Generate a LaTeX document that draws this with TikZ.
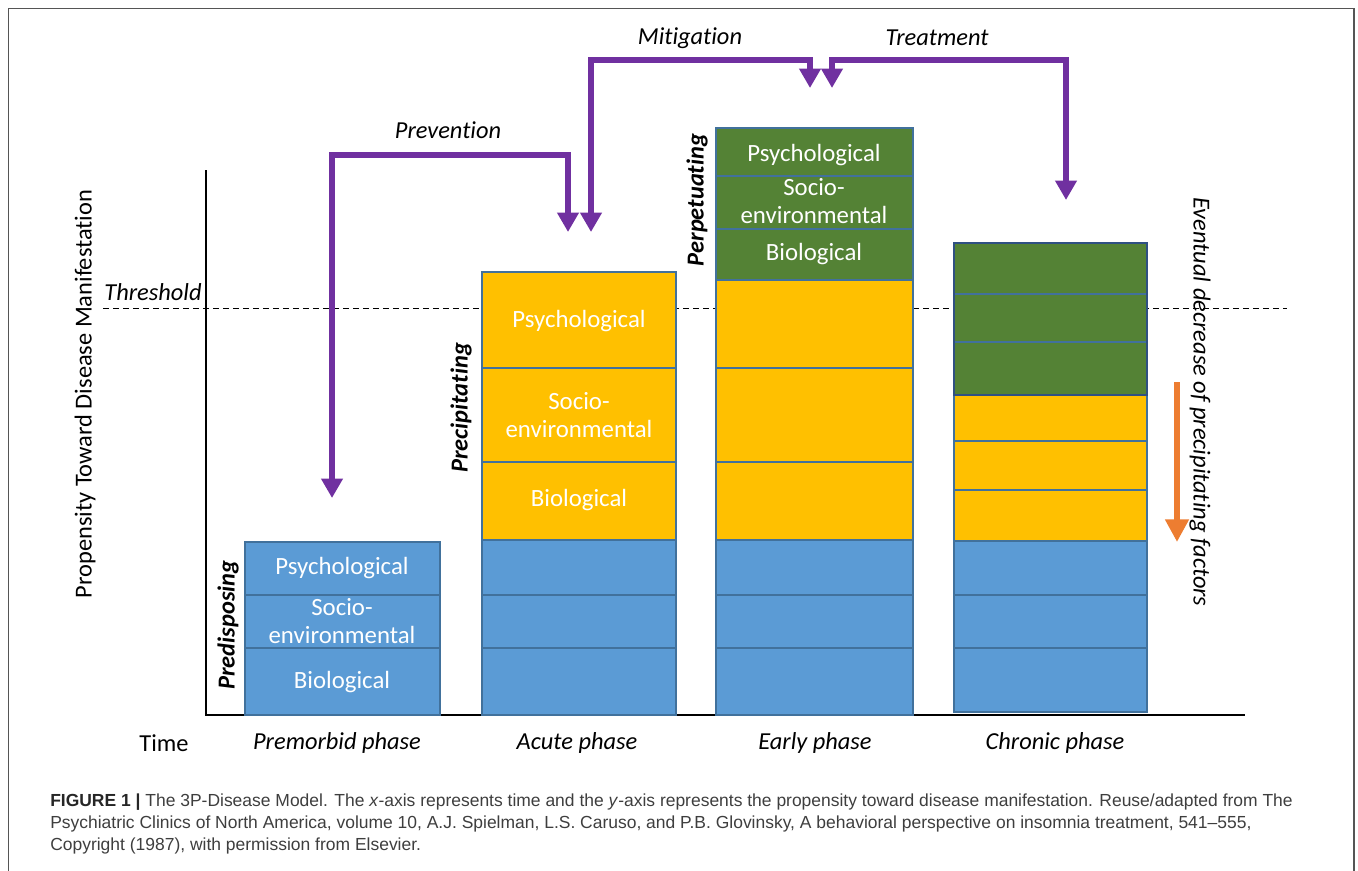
\documentclass[tikz,border=0pt]{standalone}
\usepackage{fontspec}
\setmainfont[Ligatures={NoCommon}]{Carlito}
\newfontfamily\capfont{Liberation Sans}
\usetikzlibrary{arrows.meta}
\definecolor{barblue}{RGB}{91,155,213}
\definecolor{baryellow}{RGB}{255,192,0}
\definecolor{bargreen}{RGB}{84,130,53}
\definecolor{segline}{RGB}{65,113,156}
\definecolor{segdark}{RGB}{47,80,130}
\definecolor{arrpurple}{RGB}{112,48,160}
\definecolor{arrorange}{RGB}{237,125,49}
\definecolor{capgray}{RGB}{62,62,62}
\definecolor{framegray}{RGB}{85,85,85}
\begin{document}
\begin{tikzpicture}[x=0.75pt,y=0.75pt,yscale=-1,xscale=1,
    seg/.style={draw=segline,line width=0.9pt},
    lbl/.style={text=white,font=\fontsize{18.6}{20.5}\selectfont,align=center,inner sep=0.75pt},
    sidelbl/.style={font=\fontsize{18.3}{20}\selectfont\bfseries\itshape,rotate=90,inner sep=0.75pt},
    plain/.style={font=\fontsize{18.3}{20}\selectfont,inner sep=0.75pt},
    slant/.style={font=\fontsize{18.3}{20}\selectfont\itshape,inner sep=0.75pt},
    captxt/.style={font=\capfont\fontsize{13.1}{15}\selectfont,text=capgray,anchor=base west,inner sep=0pt},
    purplearrow/.style={draw=arrpurple,line width=4.1pt,
        {Triangle[width=15.5pt,length=14.5pt]}-{Triangle[width=15.5pt,length=14.5pt]}},
    orangearrow/.style={draw=arrorange,line width=5.2pt,-{Triangle[width=17pt,length=17pt]}}]
%uncomment if require: \path (0,870); %diagram is 1358 x 870
\clip (0,0) rectangle (1358,870);
%Shape: Rectangle [id:frame]
\draw [draw=framegray,line width=1.4pt] (8.5,8.5) rectangle (1354,880) ;
%Straight Lines [id:threshold]
\draw [dash pattern=on 4.5pt off 3pt,line width=0.75pt] (103,308) -- (1287,308) ;
%Straight Lines [id:axes]
\draw [line width=0.9pt] (206,170) -- (206,715) -- (1245,715) ;
%Shape: Bars [id:premorbid]
\foreach \a/\b/\c in {542/595/barblue,595/648/barblue,648/715/barblue}
  \draw [seg,fill=\c] (245,\a) rectangle (440,\b) ;
%Shape: Bars [id:acute]
\foreach \a/\b/\c in {272/368/baryellow,368/462/baryellow,462/540/baryellow,540/595/barblue,595/648/barblue,648/715/barblue}
  \draw [seg,fill=\c] (482,\a) rectangle (676,\b) ;
%Shape: Bars [id:early]
\foreach \a/\b/\c in {128/176/bargreen,176/229/bargreen,229/280/bargreen,280/368/baryellow,368/462/baryellow,462/540/baryellow,540/595/barblue,595/648/barblue,648/715/barblue}
  \draw [seg,fill=\c] (716,\a) rectangle (913,\b) ;
%Shape: Bars [id:chronic]
\foreach \a/\b/\c in {243/294/bargreen,294/342/bargreen,342/395/bargreen,395/441/baryellow,441/490/baryellow,490/541/baryellow,541/595/barblue,595/648/barblue,648/712/barblue}
  \draw [seg,fill=\c] (954,\a) rectangle (1147,\b) ;
\draw [draw=segdark,line width=1.3pt] (954,243) rectangle (1147,395) ;
% Text Node
\node [lbl] (preA) at (342,568) {Psychological};
\node [lbl] (preB) at (342,621) {Socio-\\environmental};
\node [lbl] (preC) at (342,682) {Biological};
\node [lbl] (acuA) at (579,321) {Psychological};
\node [lbl] (acuB) at (579,415) {Socio-\\environmental};
\node [lbl] (acuC) at (579,500) {Biological};
\node [lbl] (earA) at (814,155) {Psychological};
\node [lbl] (earB) at (814,201) {Socio-\\environmental};
\node [lbl] (earC) at (814,254) {Biological};
% Text Node
\node [sidelbl] (predisp) at (228,625) {Predisposing};
\node [sidelbl] (precip) at (461,408) {Precipitating};
\node [sidelbl] (perpet) at (697,200) {Perpetuating};
% Text Node
\node [plain,rotate=90] (yaxis) at (85,394) {Propensity Toward Disease Manifestation};
\node [slant] (thresh) at (153,292) {Threshold};
\node [plain] (time) at (164,743) {Time};
\node [slant] (premorb) at (337,743) {Premorbid phase};
\node [slant] (acute) at (577,743) {Acute phase};
\node [slant] (early) at (815,743) {Early phase};
\node [slant] (chronic) at (1055,743) {Chronic phase};
\node [slant,rotate=-90] (eventual) at (1200,402) {Eventual decrease of precipitating factors};
% Text Node
\node [slant] (prevent) at (448,130) {Prevention};
\node [slant] (mitig) at (690,38) {Mitigation};
\node [slant] (treat) at (937,38) {Treatment};
%Connectors [id:purple]
\coordinate (prevTip) at (568,232);
\coordinate (prevEnd) at (332,498);
\coordinate (mitTip) at (591,232);
\coordinate (mitEnd) at (810,88);
\coordinate (treTip) at (832,88);
\coordinate (treEnd) at (1066,200);
\draw [purplearrow] (prevTip) -- (568,155) -- (332,155) -- (prevEnd) ;
\draw [purplearrow] (mitTip) -- (591,60) -- (810,60) -- (mitEnd) ;
\draw [purplearrow] (treTip) -- (832,60) -- (1066,60) -- (treEnd) ;
%Connectors [id:orange]
\coordinate (decTop) at (1177,382);
\coordinate (decTip) at (1177,542);
\draw [orangearrow] (decTop) -- (decTip) ;
% Caption
\node [captxt] (cap1) at (50,806) {{\bfseries\color{black!85}FIGURE 1 |} The 3P-Disease Model. The \textit{x}-axis represents time and the \textit{y}-axis represents the propensity toward disease manifestation. Reuse/adapted from The};
\node [captxt] (cap2) at (50,828) {Psychiatric Clinics of North America, volume 10, A.J. Spielman, L.S. Caruso, and P.B. Glovinsky, A behavioral perspective on insomnia treatment, 541–555,};
\node [captxt] (cap3) at (50,850) {Copyright (1987), with permission from Elsevier.};
\end{tikzpicture}
\end{document}
